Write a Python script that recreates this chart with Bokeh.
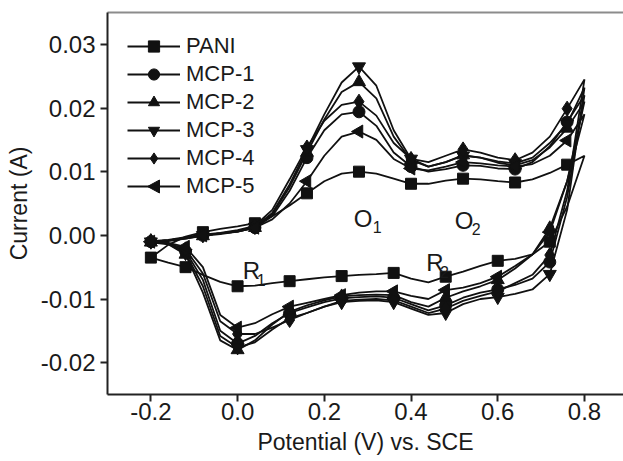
import math
from bokeh.plotting import figure
from bokeh.models import (Legend, LegendItem, LinearAxis, Label, FixedTicker,
                          PrintfTickFormatter, Range1d, PolyAnnotation)
from bokeh.embed import file_html
from bokeh.resources import INLINE

# ---------------- data ----------------
potential_up = [-0.20, -0.16, -0.12, -0.08, -0.04, 0.00, 0.04, 0.08, 0.12, 0.16,
                0.20, 0.24, 0.28, 0.32, 0.36, 0.40, 0.44, 0.48, 0.52, 0.56,
                0.60, 0.64, 0.68, 0.72, 0.76, 0.80]
potential_down = [0.76, 0.72, 0.68, 0.64, 0.60, 0.56, 0.52, 0.48, 0.44, 0.40,
                  0.36, 0.32, 0.28, 0.24, 0.20, 0.16, 0.12, 0.08, 0.04, 0.00,
                  -0.04, -0.08, -0.12, -0.16, -0.20]

pani_up = [-0.0035, -0.0015, -0.0002, 0.0005, 0.0010, 0.0014, 0.0019, 0.0030, 0.0047, 0.0066,
           0.0085, 0.0097, 0.0100, 0.0097, 0.0089, 0.0081, 0.0081, 0.0086, 0.0089, 0.0088,
           0.0085, 0.0083, 0.0088, 0.0098, 0.0111, 0.0125]
pani_down = [0.0045, -0.0010, -0.0030, -0.0037, -0.0040, -0.0048, -0.0057, -0.0065, -0.0074, -0.0068,
             -0.0059, -0.0061, -0.0062, -0.0064, -0.0066, -0.0069, -0.0072, -0.0075, -0.0079, -0.0080,
             -0.0073, -0.0062, -0.0050, -0.0043, -0.0035]

mcp1_up = [-0.0010, -0.0008, -0.0004, 0.0000, 0.0003, 0.0006, 0.0012, 0.0030, 0.0070, 0.0122,
           0.0165, 0.0190, 0.0194, 0.0172, 0.0130, 0.0108, 0.0100, 0.0104, 0.0110, 0.0109,
           0.0105, 0.0104, 0.0115, 0.0140, 0.0178, 0.0220]
mcp1_down = [0.0060, -0.0042, -0.0068, -0.0078, -0.0085, -0.0090, -0.0098, -0.0110, -0.0118, -0.0108,
             -0.0098, -0.0096, -0.0097, -0.0099, -0.0105, -0.0113, -0.0122, -0.0138, -0.0158, -0.0170,
             -0.0150, -0.0070, -0.0025, -0.0013, -0.0010]

mcp2_up = [-0.0011, -0.0009, -0.0005, -0.0001, 0.0002, 0.0006, 0.0012, 0.0033, 0.0076, 0.0130,
           0.0182, 0.0225, 0.0241, 0.0215, 0.0155, 0.0118, 0.0108, 0.0115, 0.0126, 0.0122,
           0.0114, 0.0110, 0.0118, 0.0138, 0.0168, 0.0210]
mcp2_down = [0.0085, 0.0011, -0.0030, -0.0052, -0.0070, -0.0080, -0.0088, -0.0098, -0.0112, -0.0105,
             -0.0094, -0.0093, -0.0094, -0.0096, -0.0102, -0.0110, -0.0120, -0.0140, -0.0165, -0.0180,
             -0.0165, -0.0090, -0.0030, -0.0014, -0.0011]

mcp3_up = [-0.0010, -0.0008, -0.0005, 0.0000, 0.0003, 0.0007, 0.0013, 0.0035, 0.0080, 0.0135,
           0.0190, 0.0240, 0.0265, 0.0235, 0.0165, 0.0120, 0.0108, 0.0115, 0.0125, 0.0122,
           0.0116, 0.0113, 0.0122, 0.0145, 0.0175, 0.0232]
mcp3_down = [0.0040, -0.0061, -0.0085, -0.0092, -0.0097, -0.0100, -0.0108, -0.0122, -0.0125, -0.0115,
             -0.0105, -0.0102, -0.0103, -0.0105, -0.0112, -0.0122, -0.0130, -0.0148, -0.0168, -0.0176,
             -0.0158, -0.0080, -0.0028, -0.0013, -0.0010]

mcp4_up = [-0.0009, -0.0007, -0.0003, 0.0001, 0.0004, 0.0008, 0.0015, 0.0040, 0.0088, 0.0138,
           0.0180, 0.0205, 0.0210, 0.0188, 0.0145, 0.0120, 0.0115, 0.0125, 0.0135, 0.0130,
           0.0122, 0.0118, 0.0130, 0.0155, 0.0199, 0.0245]
mcp4_down = [0.0070, -0.0031, -0.0062, -0.0075, -0.0088, -0.0095, -0.0103, -0.0115, -0.0122, -0.0112,
             -0.0102, -0.0100, -0.0101, -0.0103, -0.0112, -0.0122, -0.0133, -0.0145, -0.0155, -0.0155,
             -0.0135, -0.0060, -0.0022, -0.0012, -0.0009]

mcp5_up = [-0.0010, -0.0008, -0.0004, 0.0000, 0.0003, 0.0006, 0.0012, 0.0025, 0.0050, 0.0085,
           0.0125, 0.0155, 0.0163, 0.0150, 0.0120, 0.0105, 0.0102, 0.0108, 0.0115, 0.0113,
           0.0110, 0.0108, 0.0112, 0.0125, 0.0149, 0.0190]
mcp5_down = [0.0085, 0.0005, -0.0030, -0.0048, -0.0065, -0.0075, -0.0082, -0.0086, -0.0100, -0.0095,
             -0.0088, -0.0088, -0.0090, -0.0094, -0.0100, -0.0106, -0.0112, -0.0124, -0.0138, -0.0145,
             -0.0125, -0.0050, -0.0018, -0.0012, -0.0010]

series_names = ["PANI", "MCP-1", "MCP-2", "MCP-3", "MCP-4", "MCP-5"]
x_ticks = [-0.2, 0.0, 0.2, 0.4, 0.6, 0.8]
y_ticks = [-0.02, -0.01, 0.00, 0.01, 0.02, 0.03]

# ---------------- layout constants ----------------
FONT = "Liberation Sans"
W, H = 623, 461
B_LEFT, B_TOP, B_BOTTOM, B_RIGHT = 107, 12, 67, 0
X0, X1 = -0.3, 0.890
Y0, Y1 = -0.025, 0.035
FRAME_W = W - B_LEFT - B_RIGHT
FRAME_H = H - B_TOP - B_BOTTOM

p = figure(width=W, height=H, output_backend="svg", toolbar_location=None,
           x_range=Range1d(X0, X1), y_range=Range1d(Y0, Y1),
           min_border_left=B_LEFT, min_border_right=B_RIGHT,
           min_border_top=B_TOP, min_border_bottom=B_BOTTOM)
p.outline_line_color = None
p.xgrid.visible = False
p.ygrid.visible = False
p.background_fill_color = "white"
p.border_fill_color = "white"

for ax in (p.xaxis[0], p.yaxis[0]):
    ax.axis_line_color = "#222222"
    ax.axis_line_width = 2
    ax.major_tick_line_color = "#222222"
    ax.major_tick_line_width = 2
    ax.major_tick_in = 0
    ax.major_tick_out = 7
    ax.minor_tick_line_color = None
    ax.major_label_text_font = FONT
    ax.major_label_text_font_size = "24px"
    ax.major_label_text_color = "#1a1a1a"
    ax.axis_label_text_font = FONT
    ax.axis_label_text_font_size = "23px"
    ax.axis_label_text_font_style = "normal"
    ax.axis_label_text_color = "#1a1a1a"

p.xaxis[0].ticker = FixedTicker(ticks=x_ticks)
p.yaxis[0].ticker = FixedTicker(ticks=y_ticks)
p.xaxis[0].formatter = PrintfTickFormatter(format="%.1f")
p.yaxis[0].formatter = PrintfTickFormatter(format="%.2f")
p.xaxis[0].axis_label = "Potential (V) vs. SCE"
p.yaxis[0].axis_label = "Current (A)"
p.xaxis[0].major_label_standoff = 1
p.xaxis[0].axis_label_standoff = 6
p.yaxis[0].major_label_standoff = 5
p.yaxis[0].axis_label_standoff = 6

top = LinearAxis(ticker=FixedTicker(ticks=[]), major_label_text_font_size="0px",
                 axis_line_color="#8c8c8c", axis_line_width=2,
                 major_tick_line_color=None, minor_tick_line_color=None)
p.add_layout(top, "above")

curves = [
    (pani_up + pani_down, "square", 11, 0.0),
    (mcp1_up + mcp1_down, "circle", 12, 0.0),
    (mcp2_up + mcp2_down, "triangle", 13, 0.0),
    (mcp3_up + mcp3_down, "inverted_triangle", 13, 0.0),
    (mcp4_up + mcp4_down, "diamond", 15, 0.0),
    (mcp5_up + mcp5_down, "triangle", 13, math.pi / 2),
]
potential = potential_up + potential_down

items = []
for name, (cur, marker, size, ang) in zip(series_names, curves):
    ln = p.line(potential, cur, line_color="#111111", line_width=1.8)
    mx = potential[0:49:3]
    my = cur[0:49:3]
    sc = p.scatter(mx, my, marker=marker, size=size, angle=ang,
                   fill_color="#111111", line_color="#111111")
    # legend glyphs are never rotated by Bokeh -> left triangle drawn separately
    rends = [ln] if ang != 0.0 else [ln, sc]
    items.append(LegendItem(label=name, renderers=rends))

LEG_MARGIN, GLYPH_W, ROW_H = 20, 53, 28
legend = Legend(items=items, location="top_left", margin=LEG_MARGIN, padding=0,
                glyph_width=GLYPH_W, glyph_height=ROW_H, label_standoff=6, spacing=0,
                label_text_font=FONT, label_text_font_size="22px",
                label_text_color="#1a1a1a",
                background_fill_alpha=0, border_line_color=None)
p.add_layout(legend)

# left-pointing triangle for the MCP-5 legend entry (legend row 6)
px_x = (X1 - X0) / FRAME_W
px_y = (Y1 - Y0) / FRAME_H
cx = X0 + (LEG_MARGIN + GLYPH_W / 2) * px_x
cy = Y1 - (LEG_MARGIN + ROW_H * 5.5) * px_y
p.add_layout(PolyAnnotation(
    xs=[cx - 6.5 * px_x, cx + 5.5 * px_x, cx + 5.5 * px_x],
    ys=[cy, cy + 6.5 * px_y, cy - 6.5 * px_y],
    fill_color="#111111", fill_alpha=1.0, line_color="#111111", line_alpha=1.0))

def add_label(x, y, txt, size):
    p.add_layout(Label(x=x, y=y, text=txt, text_font=FONT, text_font_size=size,
                       text_align="left", text_baseline="alphabetic",
                       text_color="#1a1a1a"))

add_label(0.268, 0.00266, "O", "24px")
add_label(0.312, 0.00125, "1", "16px")
add_label(0.501, 0.00235, "O", "24px")
add_label(0.540, 0.00094, "2", "16px")
add_label(0.012, -0.0056, "R", "24px")
add_label(0.044, -0.00705, "1", "16px")
add_label(0.435, -0.00423, "R", "24px")
add_label(0.467, -0.0058, "2", "16px")

open("out.html", "w").write(file_html(p, INLINE))
